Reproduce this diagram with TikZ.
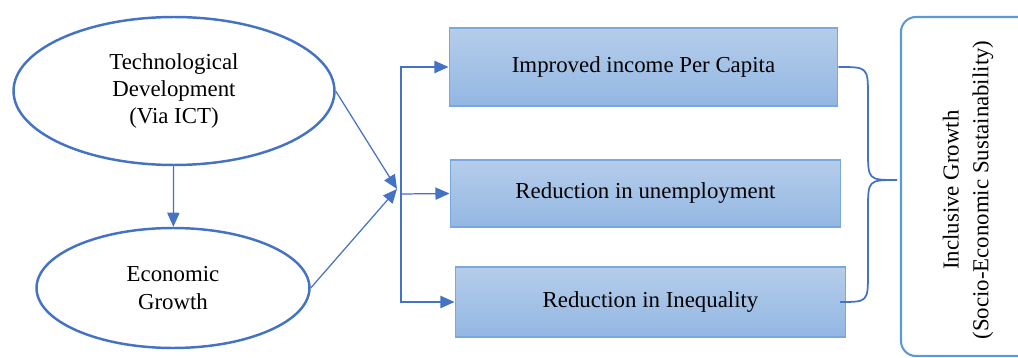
\documentclass[tikz,border=0pt]{standalone}
\usepackage{fontspec}
\setmainfont{Liberation Serif}
\newfontfamily\diagfont{Liberation Serif}
\usepackage{tikz}
\usetikzlibrary{arrows.meta, shapes.geometric}
\definecolor{linkblue}{HTML}{4472C4}
\definecolor{edgeblue}{HTML}{7AA7DE}
\definecolor{boxtop}{HTML}{B5CDEA}
\definecolor{boxbot}{HTML}{93B7E3}
\definecolor{roundblue}{HTML}{5B9BD5}

\begin{document}
\begin{tikzpicture}
        [x=0.02cm, y=-0.02cm,
         textsty/.style={font=\diagfont\fontsize{13}{15.5}\selectfont},
         ellsty/.style={ellipse,
                        textsty,
                        inner sep=0pt,
                        draw=linkblue,
                        line width=1.4pt,
                        align=center},
         boxsty/.style={rectangle,
                        textsty,
                        inner sep=0pt,
                        draw=edgeblue,
                        line width=0.6pt,
                        top color=boxtop,
                        bottom color=boxbot},
         post/.style={-{Triangle[length=8pt, width=7pt]}, draw=linkblue, line width=0.7pt},
         bracesty/.style={draw=linkblue, line width=1pt},
         growthsty/.style={draw=roundblue, line width=1.2pt, rounded corners=0.3cm}]

        \useasboundingbox (0,0) rectangle (1018,358);

        \node[ellsty, minimum width=6.42cm, minimum height=2.96cm] (tech) at (174,91)
                {Technological\\Development\\(Via ICT)};
        \node[ellsty, minimum width=5.46cm, minimum height=2.4cm] (econ) at (173,288)
                {Economic\\Growth};

        \draw[post] (tech) -- (econ);

        \node[boxsty, minimum width=7.78cm, minimum height=1.56cm] (income) at (643.5,67)
                {Improved income Per Capita};
        \node[boxsty, minimum width=7.82cm, minimum height=1.34cm] (unemp) at (645.5,193.5)
                {Reduction in unemployment};
        \node[boxsty, minimum width=7.82cm, minimum height=1.4cm] (ineq) at (650.5,302)
                {Reduction in Inequality};

        \coordinate (hub) at (397,189);
        \coordinate (spine) at (401,194);
        \draw[post] (tech.east) -- (hub);
        \draw[post] (econ.east) -- (hub);

        \draw[post] (spine) |- (income.west);
        \draw[post] (spine) -- (unemp.west);
        \draw[post] (spine) |- (ineq.west);

        \coordinate (tip) at (897,180);
        \coordinate (brace end) at (840,302);
        \draw[bracesty] (income.east) .. controls (868,67) .. (868,97) -- (868,150)
                .. controls (868,180) .. (tip)
                .. controls (868,180) .. (868,210) -- (868,272)
                .. controls (868,302) .. (brace end);

        \draw[growthsty] (901,17) rectangle (1045,356);
        \node[rotate=90, align=center, font=\diagfont\fontsize{13}{17}\selectfont] (growth) at (968,190)
                {Inclusive Growth\\(Socio-Economic Sustainability)};
\end{tikzpicture}
\end{document}
